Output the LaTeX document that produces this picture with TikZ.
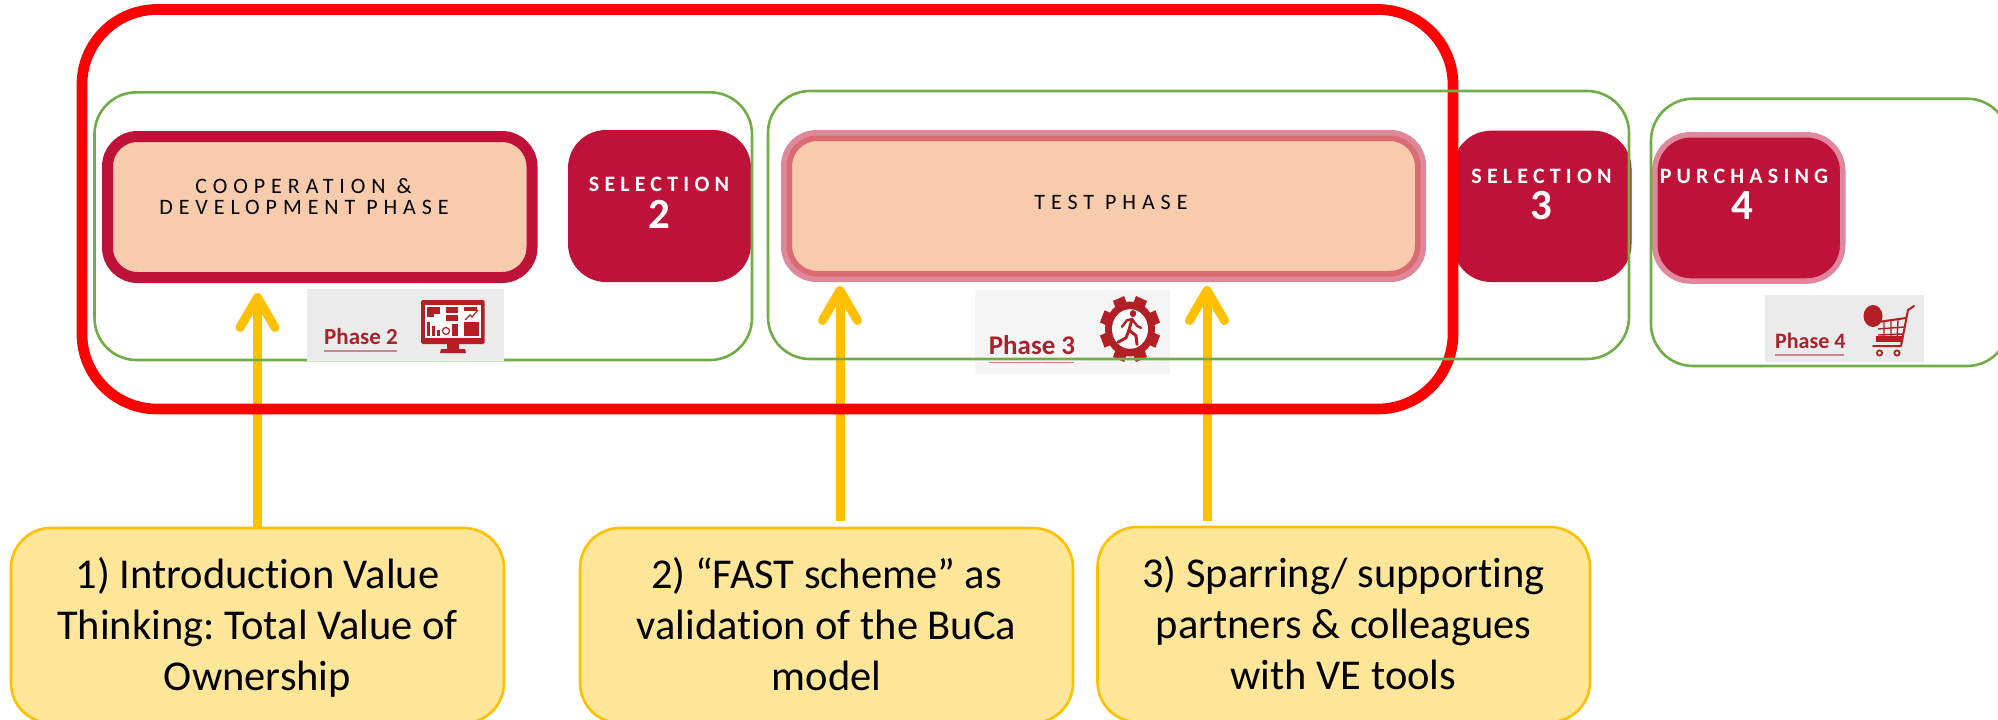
\documentclass[tikz,border=0pt]{standalone}
\usepackage{fontspec}
\usetikzlibrary{arrows.meta}
\setmainfont{Carlito}[Ligatures=NoCommon]
\frenchspacing
\definecolor{crim}{RGB}{190,18,56}
\definecolor{peach}{HTML}{F8CBAD}
\definecolor{gold}{HTML}{FFC000}
\definecolor{pale}{HTML}{FFE699}
\definecolor{grn}{HTML}{70AD47}
\definecolor{pinkA}{RGB}{224,136,155}
\definecolor{pinkB}{RGB}{219,107,112}
\definecolor{iconred}{RGB}{178,32,38}
\definecolor{lblred}{RGB}{168,35,44}
\definecolor{ulred}{RGB}{200,135,142}
\tikzset{
  rbox/.style={draw,rectangle,inner sep=0pt,outer sep=0pt},
  redframe/.style={rbox,draw=red,line width=10.7pt,rounded corners=75pt},
  grnframe/.style={rbox,draw=grn,line width=2.6pt,rounded corners=42pt},
  phasebox/.style={rbox,fill=peach,line width=11pt,rounded corners=30pt},
  selbox/.style={rbox,fill=crim,draw=none,rounded corners=38pt},
  ybox/.style={rbox,fill=pale,draw=gold,line width=2.6pt,rounded corners=40pt},
  ytext/.style={anchor=base,inner sep=0pt,font=\fontsize{42.5}{42.5}\selectfont},
  spaced/.style={anchor=base,inner sep=0pt,font=\fontsize{22}{22}\selectfont\addfontfeature{LetterSpace=27}},
  selword/.style={anchor=base,inner sep=0pt,text=white,font=\fontsize{22}{22}\selectfont\bfseries\addfontfeature{LetterSpace=23.5}},
  selnum/.style={anchor=base,inner sep=0pt,text=white,font=\fontsize{43}{43}\selectfont\bfseries},
  thumb/.style={rectangle,inner sep=0pt,outer sep=0pt,draw=none},
  phaselbl/.style={anchor=base west,inner sep=0pt,text=lblred,font=\fontsize{23}{23}\selectfont\bfseries},
  uline/.style={draw=ulred,line width=1.4pt},
  yarrow/.style={draw=gold,line width=9pt,-{Straight Barb[length=30pt,width=35pt,round]}},
}
\begin{document}
\begin{tikzpicture}[x=1pt,y=-1pt]
\useasboundingbox (0,0) rectangle (1998,720);
\clip (0,0) rectangle (1998,720);
% thumbnails under the frames
\node[thumb,fill=black!4,minimum width=195pt,minimum height=84pt] (thumb3) at (1072.5,332) {};
\node[thumb,fill=black!8,minimum width=159pt,minimum height=67pt] (thumb4) at (1844.5,328.5) {};
\node[selbox,minimum width=178.5pt,minimum height=151.3pt] (sel3) at (1542.25,206.35) {};
\node[selbox,minimum width=183pt,minimum height=152pt] (sel2) at (659.5,206) {};
% phase 3 gear
\begin{scope}[shift={(1130,329)},yscale=1.1]
  \foreach \a in {0,45,...,315}{\fill[iconred,rotate=\a+22.5] (-6,-30) rectangle (6,-20);}
  \fill[iconred] (0,0) circle (25);
  \fill[white] (0,0) circle (18);
  \fill[iconred] (3,-14) circle (3.2);
  \draw[iconred,line width=3pt,line cap=round,line join=round] (2,-9) -- (-1,1) -- (6,6) -- (7,14);
  \draw[iconred,line width=3pt,line cap=round,line join=round] (-1,1) -- (-4,8) -- (-12,12);
  \draw[iconred,line width=2.4pt,line cap=round,line join=round] (-8,-2) -- (-3,-8) -- (2,-9) -- (7,-3) -- (11,-1);
\end{scope}
\node[phaselbl,font=\fontsize{27}{27}\selectfont\bfseries] (lbl3) at (988.6,354) {Phase 3};
\draw[uline] (989,362.7) -- (1073.6,362.7);
% callouts
\node[ybox,minimum width=493pt,minimum height=195pt] (y1) at (257.5,625.5) {};
\node[ybox,minimum width=493pt,minimum height=195pt] (y2) at (826.5,625.5) {};
\node[ybox,minimum width=492.5pt,minimum height=195pt] (y3) at (1343.75,624.5) {};
\node[ytext] (y1a) at (257.5,588) {1) Introduction Value};
\node[ytext] (y1b) at (257.5,639) {Thinking: Total Value of};
\node[ytext] (y1c) at (257.5,690) {Ownership};
\node[ytext] (y2a) at (826.5,588) {2) “FAST scheme” as};
\node[ytext] (y2b) at (826.5,639) {validation of the BuCa};
\node[ytext] (y2c) at (826.5,690) {model};
\node[ytext] (y3a) at (1343.5,587) {3) Sparring/ supporting};
\node[ytext] (y3b) at (1343.5,638) {partners \& colleagues};
\node[ytext] (y3c) at (1343.5,689) {with VE tools};
% arrows
\coordinate (tip1) at (257.5,293);
\coordinate (tip2) at (840,286);
\coordinate (tip3) at (1207,286);
\coordinate (tail2) at (840,521);
\coordinate (tail3) at (1207,521);
\draw[yarrow] (y1.north) -- (tip1);
\draw[yarrow] (tail2) -- (tip2);
\draw[yarrow] (tail3) -- (tip3);
% red frame
\node[redframe,minimum width=1371pt,minimum height=399.5pt] (redf) at (767.5,209.25) {};
% green frames
\node[grnframe,minimum width=657.5pt,minimum height=267.7pt] (g1) at (423.25,226.15) {};
\node[grnframe,minimum width=861pt,minimum height=268pt] (g2) at (1198.5,225) {};
% thumbnail 2 covers frame
\node[thumb,fill=black!8,minimum width=197pt,minimum height=72pt] (thumb2) at (405.5,325) {};
\node[phaselbl] (lbl2) at (324,344) {Phase 2};
\draw[uline] (324,351) -- (396.5,351);
% monitor icon
\begin{scope}
  \fill[iconred,rounded corners=1.5pt] (421,300) rectangle (484.7,344);
  \fill[iconred] (447,344) rectangle (459,349);
  \fill[iconred] (441,349) -- (465,349) -- (466,353) -- (440,353) -- cycle;
  \fill[white] (425,305) rectangle (481,338);
  \fill[iconred] (427,307) rectangle (440,314);
  \fill[iconred] (427,314) rectangle (434,317);
  \fill[iconred] (446,307) rectangle (458,313);
  \fill[iconred] (446,315) rectangle (458,321);
  \fill[iconred] (464,307) rectangle (477,311);
  \fill[iconred] (464,322) rectangle (479,336);
  \fill[iconred] (427,322) rectangle (430,336);
  \fill[iconred] (432,326) rectangle (435,336);
  \fill[iconred] (437,330) rectangle (440,336);
  \fill[iconred] (452,324) rectangle (458,336);
  \draw[iconred,line width=1.2pt] (446,331) circle (3.5);
  \draw[iconred,line width=1.2pt] (465,320) -- (470,315) -- (472,317) -- (478,310);
\end{scope}
% phase boxes
\node[phasebox,draw=crim,minimum width=424.5pt,minimum height=141pt] (coop) at (319.75,207) {};
\node[rbox,fill=peach,draw=pinkA,line width=11pt,rounded corners=30pt,minimum width=634pt,minimum height=141pt] (test) at (1103.5,206) {};
\node[rbox,draw=pinkB,line width=5.5pt,rounded corners=28pt,minimum width=628.5pt,minimum height=135.5pt] (testin) at (1103.5,206) {};
\node[rbox,fill=crim,draw=pinkA,line width=5.5pt,rounded corners=36pt,minimum width=188pt,minimum height=146.25pt] (purch) at (1748.75,207.9) {};
\node[grnframe,minimum width=358pt,minimum height=267.3pt] (g3) at (1830,232.35) {};
% phase 4
\node[phaselbl,font=\fontsize{22}{22}\selectfont\bfseries] (lbl4) at (1775,348) {Phase 4};
\draw[uline] (1775,355) -- (1844,355);
\begin{scope}
  \fill[iconred] (1873,316) ellipse (9.5 and 11);
  \draw[iconred,line width=2pt,line cap=round,line join=round] (1914,306) -- (1908,310) -- (1901,346) -- (1873,346);
  \draw[iconred,line width=2pt] (1878,322) -- (1906,318);
  \draw[iconred,line width=1.4pt] (1878,329) -- (1904,327) (1878,335) -- (1903,334);
  \draw[iconred,line width=1.4pt] (1884,322) -- (1884,340) (1891,321) -- (1891,340) (1898,320) -- (1897,340);
  \fill[iconred] (1876,336) rectangle (1902,342);
  \draw[iconred,line width=1.8pt] (1879.5,353) circle (2.6) (1897,353) circle (2.6);
\end{scope}
% box texts
\node[spaced] (t1a) at (303.5,193) {COOPERATION \&};
\node[spaced] (t1b) at (304,214) {DEVELOPMENT PHASE};
\node[spaced] (t2) at (1111,209) {TEST PHASE};
\node[selword] (s2) at (659,191) {SELECTION};
\node[selnum] (n2) at (659,228) {2};
\node[selword] (s3) at (1541.5,183) {SELECTION};
\node[selnum] (n3) at (1541,219) {3};
\node[selword] (s4) at (1744,183) {PURCHASING};
\node[selnum] (n4) at (1742.6,219) {4};
\end{tikzpicture}
\end{document}
